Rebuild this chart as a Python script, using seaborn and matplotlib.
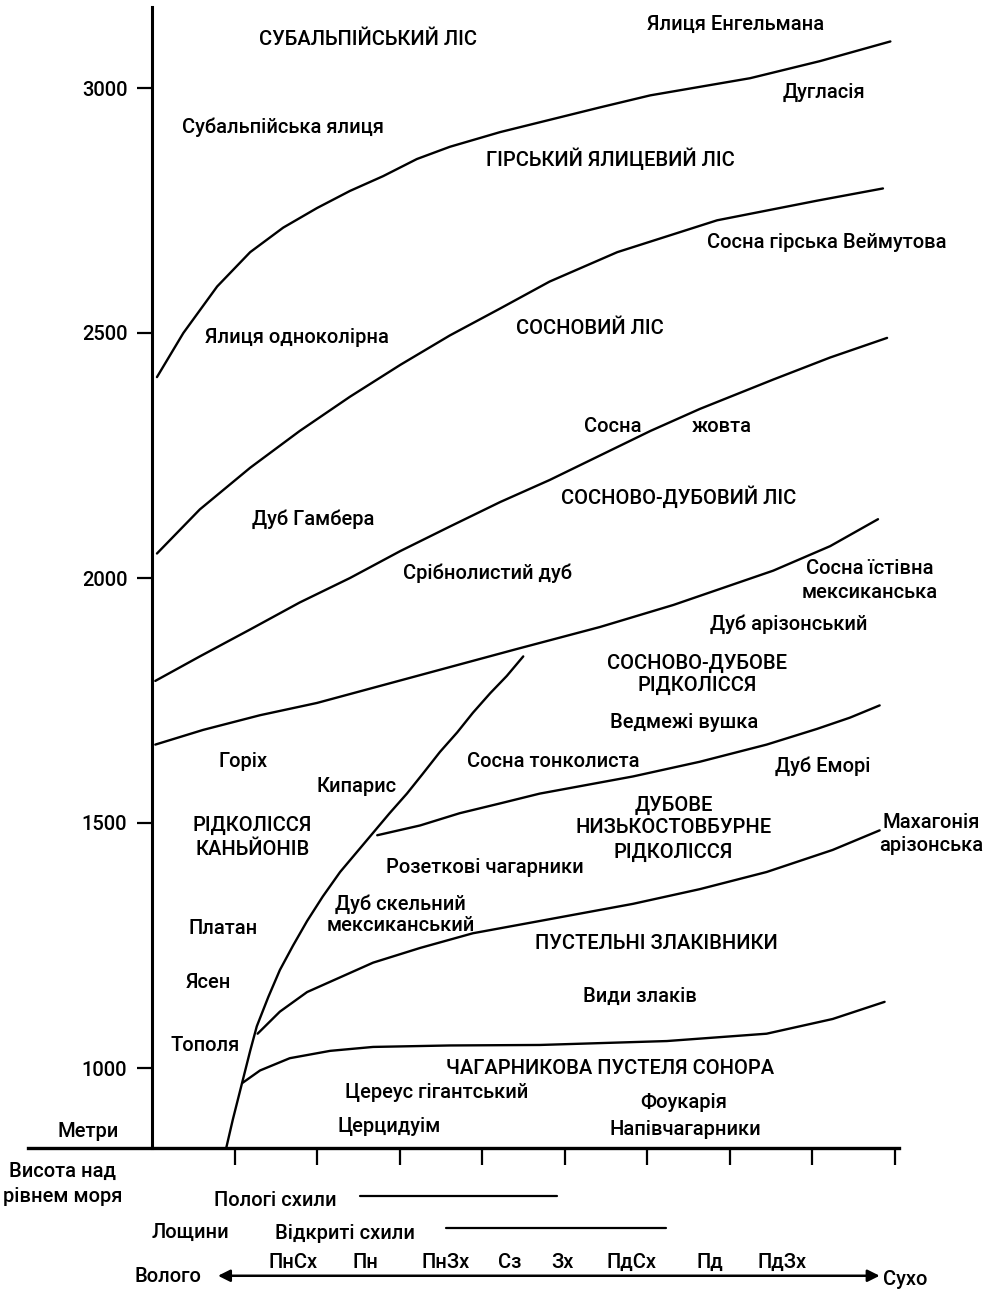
import pandas as pd
import seaborn as sns
import matplotlib.pyplot as plt

# --- boundary curves: x = position on the moisture gradient (tick units), y = altitude (m) ---
curve_a_x = [0.06, 0.38, 0.79, 1.19, 1.59, 2.00, 2.40, 2.80, 3.21, 3.61, 4.22, 4.82, 5.42, 6.04, 7.25, 8.10, 8.95]
curve_a_y = [2410, 2500, 2595, 2665, 2715, 2755, 2790, 2820, 2855, 2880, 2910, 2935, 2960, 2985, 3020, 3055, 3095]

curve_b_x = [0.06, 0.58, 1.19, 1.79, 2.40, 3.01, 3.61, 4.22, 4.82, 5.64, 6.85, 8.06, 8.86]
curve_b_y = [2050, 2140, 2225, 2300, 2370, 2435, 2495, 2550, 2605, 2665, 2730, 2770, 2795]

curve_c_x = [0.04, 0.58, 1.19, 1.79, 2.40, 3.01, 3.61, 4.22, 4.82, 5.43, 6.04, 6.64, 7.53, 8.22, 8.91]
curve_c_y = [1790, 1840, 1895, 1950, 2000, 2055, 2105, 2155, 2200, 2250, 2300, 2345, 2405, 2450, 2490]

curve_d_x = [0.04, 0.62, 1.31, 2.00, 3.21, 4.42, 5.43, 6.32, 7.53, 8.22, 8.80]
curve_d_y = [1660, 1690, 1720, 1745, 1800, 1855, 1900, 1945, 2015, 2065, 2120]

# steep canyon boundary (from the base line up to the pine-oak forest)
curve_e_x = [0.90, 0.98, 1.10, 1.19, 1.27, 1.41, 1.55, 1.71, 1.88, 2.07, 2.28, 2.48, 2.68, 2.88,
             3.09, 3.28, 3.49, 3.70, 3.89, 4.10, 4.30, 4.50]
curve_e_y = [837, 895, 975, 1035, 1085, 1145, 1200, 1250, 1300, 1350, 1400, 1440, 1480, 1520,
             1560, 1600, 1645, 1685, 1725, 1765, 1800, 1840]

curve_f_x = [2.73, 3.25, 3.73, 4.22, 4.70, 5.83, 6.64, 7.45, 8.06, 8.46, 8.82]
curve_f_y = [1475, 1495, 1520, 1540, 1560, 1595, 1625, 1660, 1692, 1715, 1740]

curve_g_x = [1.28, 1.55, 1.88, 2.28, 2.68, 3.25, 3.89, 4.70, 5.83, 6.64, 7.45, 8.25, 8.82]
curve_g_y = [1070, 1115, 1155, 1185, 1215, 1245, 1275, 1300, 1335, 1365, 1400, 1445, 1485]

curve_h_x = [1.10, 1.31, 1.67, 2.16, 2.68, 3.61, 4.70, 6.24, 7.45, 8.25, 8.88]
curve_h_y = [970, 995, 1020, 1035, 1043, 1046, 1047, 1055, 1070, 1100, 1135]

# altitude ticks
alt_ticks = [1000, 1500, 2000, 2500, 3000]
grad_ticks = [1, 2, 3, 4, 5, 6, 7, 8, 9]

# slope ranges below the axis
gentle_slopes = [2.52, 4.91]
open_slopes = [3.56, 6.23]
aspects = ['ПнСх', 'Пн', 'ПнЗх', 'Сз', 'Зх', 'ПдСх', 'Пд', 'ПдЗх']
aspect_pos = [1.71, 2.59, 3.56, 4.34, 4.98, 5.81, 6.76, 7.64]

rows = []
for name, xs, ys in [('a', curve_a_x, curve_a_y), ('b', curve_b_x, curve_b_y),
                     ('c', curve_c_x, curve_c_y), ('d', curve_d_x, curve_d_y),
                     ('e', curve_e_x, curve_e_y), ('f', curve_f_x, curve_f_y),
                     ('g', curve_g_x, curve_g_y), ('h', curve_h_x, curve_h_y)]:
    for x, y in zip(xs, ys):
        rows.append({'curve': name, 'x': x, 'y': y})
df = pd.DataFrame(rows)

# labels inside the diagram: (text, x, y)
labels = [
    ('СУБАЛЬПІЙСЬКИЙ ЛІС', 2.62, 3100),
    ('Субальпійська ялиця', 1.59, 2920),
    ('Ялиця Енгельмана', 7.07, 3130),
    ('Дугласія', 8.15, 2990),
    ('ГІРСЬКИЙ ЯЛИЦЕВИЙ ЛІС', 5.55, 2855),
    ('Сосна гірська Веймутова', 8.18, 2685),
    ('Ялиця одноколірна', 1.76, 2490),
    ('СОСНОВИЙ ЛІС', 5.31, 2510),
    ('Сосна', 5.59, 2310),
    ('жовта', 6.91, 2310),
    ('СОСНОВО-ДУБОВИЙ ЛІС', 6.38, 2165),
    ('Дуб Гамбера', 1.95, 2120),
    ('Срібнолистий дуб', 4.07, 2010),
    ('Сосна їстівна', 8.70, 2020),
    ('мексиканська', 8.70, 1970),
    ('Дуб арізонський', 7.72, 1905),
    ('СОСНОВО-ДУБОВЕ', 6.61, 1825),
    ('РІДКОЛІССЯ', 6.61, 1780),
    ('Ведмежі вушка', 6.45, 1705),
    ('Горіх', 1.10, 1625),
    ('Кипарис', 2.48, 1575),
    ('Сосна тонколиста', 4.86, 1625),
    ('Дуб Еморі', 8.13, 1615),
    ('РІДКОЛІССЯ', 1.22, 1495),
    ('КАНЬЙОНІВ', 1.22, 1445),
    ('ДУБОВЕ', 6.32, 1535),
    ('НИЗЬКОСТОВБУРНЕ', 6.32, 1490),
    ('РІДКОЛІССЯ', 6.32, 1440),
    ('Махагонія', 9.45, 1500),
    ('арізонська', 9.45, 1455),
    ('Розеткові чагарники', 4.04, 1410),
    ('Дуб скельний', 3.01, 1335),
    ('мексиканський', 3.01, 1290),
    ('Платан', 0.86, 1285),
    ('ПУСТЕЛЬНІ ЗЛАКІВНИКИ', 6.11, 1255),
    ('Ясен', 0.68, 1175),
    ('Види злаків', 5.92, 1145),
    ('Тополя', 0.64, 1045),
    ('ЧАГАРНИКОВА ПУСТЕЛЯ СОНОРА', 5.55, 1000),
    ('Цереус гігантський', 3.45, 950),
    ('Фоукарія', 6.44, 930),
    ('Церцидуім', 2.88, 880),
    ('Напівчагарники', 6.46, 875),
]

sns.set_style('white')
plt.rcParams['font.family'] = ['Roboto', 'DejaVu Sans']
plt.rcParams['font.weight'] = 'medium'
plt.rcParams['text.color'] = 'black'
plt.rcParams['ytick.color'] = 'black'
plt.rcParams['xtick.color'] = 'black'

fig = plt.figure(figsize=(9.94, 12.92), dpi=100)
ax = fig.add_axes([152 / 994, 144 / 1292, 842 / 994, 1141 / 1292])

sns.lineplot(data=df, x='x', y='y', units='curve', estimator=None, sort=False,
             color='black', linewidth=1.7, ax=ax, legend=False)

ax.set_xlim(0, 842 / 82.5)
ax.set_ylim(3000 - 1060 / 0.49, 3000 + 81 / 0.49)

# axes look
for s in ['top', 'right']:
    ax.spines[s].set_visible(False)
ax.spines['left'].set_linewidth(2.2)
ax.spines['left'].set_color('black')
ax.spines['bottom'].set_linewidth(2.4)
ax.spines['bottom'].set_color('black')
ax.spines['bottom'].set_bounds(-1.5, 9.05)

fs = 14.5
ax.set_yticks(alt_ticks)
ax.set_yticklabels([str(t) for t in alt_ticks])
ax.set_xticks(grad_ticks)
ax.set_xticklabels([])
ax.tick_params(axis='y', direction='out', length=10.8, width=1.6, pad=7, labelsize=fs)
ax.tick_params(axis='x', direction='out', length=12, width=1.6)
ax.tick_params(left=True, bottom=True)
ax.set_xlabel('')
ax.set_ylabel('')

for txt, x, y in labels:
    ax.text(x, y, txt, ha='center', va='center', fontsize=fs)

# text below the diagram
ax.text(-0.78, 870, 'Метри', ha='center', va='center', fontsize=fs)
ax.text(-1.08, 788, 'Висота над', ha='center', va='center', fontsize=fs)
ax.text(-1.08, 737, 'рівнем моря', ha='center', va='center', fontsize=fs)
ax.text(1.49, 729, 'Пологі схили', ha='center', va='center', fontsize=fs)
ax.text(0.46, 665, 'Лощини', ha='center', va='center', fontsize=fs)
ax.text(2.34, 663, 'Відкриті схили', ha='center', va='center', fontsize=fs)
ax.plot(gentle_slopes, [739, 739], color='black', lw=1.6, clip_on=False)
ax.plot(open_slopes, [674, 674], color='black', lw=1.6, clip_on=False)
for a, x in zip(aspects, aspect_pos):
    ax.text(x, 604, a, ha='center', va='center', fontsize=fs)

ax.annotate('', xy=(8.82, 576), xytext=(0.80, 576), annotation_clip=False,
            arrowprops=dict(arrowstyle='<|-|>', color='black', lw=1.8, mutation_scale=18,
                            shrinkA=0, shrinkB=0))
ax.text(0.19, 574, 'Волого', ha='center', va='center', fontsize=fs)
ax.text(9.13, 568, 'Сухо', ha='center', va='center', fontsize=fs)

plt.savefig('out.png', dpi=100)
plt.close()
